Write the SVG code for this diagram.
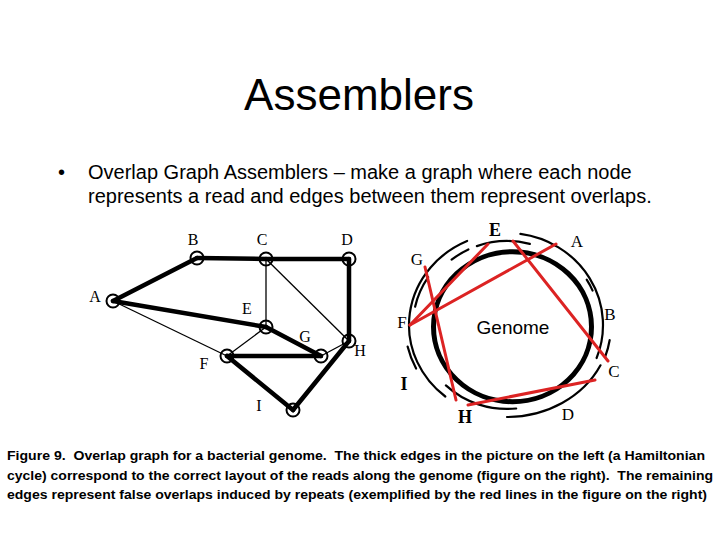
<svg xmlns="http://www.w3.org/2000/svg" width="720" height="540" viewBox="0 0 720 540">
<style>
.title{font-family:"Liberation Sans",Arial,sans-serif;font-size:44px;fill:#000}
.body{font-family:"Liberation Sans",Arial,sans-serif;font-size:20px;fill:#000}
.cap{font-family:"Liberation Sans",Arial,sans-serif;font-size:13.5px;font-weight:bold;fill:#000;white-space:pre}
.lbl{font-family:"Liberation Serif","Times New Roman",serif;font-size:16px;fill:#000;text-anchor:middle}
.rl{font-family:"Liberation Serif","Times New Roman",serif;font-size:17px;fill:#000;text-anchor:middle}
.rb{font-weight:bold;font-size:18px}
.thick{stroke:#000;stroke-width:4.5;stroke-linecap:round;fill:none}
.thin{stroke:#000;stroke-width:1.3;fill:none}
.node{fill:none;stroke:#000;stroke-width:2}
.read{fill:none;stroke:#000;stroke-width:2.2;stroke-linecap:round}
.red{stroke:#dc2323;stroke-width:3;stroke-linecap:round;fill:none}
</style>
<rect width="720" height="540" fill="#fff"/>
<text class="title" x="359" y="110" text-anchor="middle">Assemblers</text>
<text class="body" x="58" y="179">•</text>
<text class="body" x="88" y="179">Overlap Graph Assemblers – make a graph where each node</text>
<text class="body" x="88" y="203">represents a read and edges between them represent overlaps.</text>

<g id="connectors">
<line class="thin" x1="113" y1="301" x2="227" y2="356"/>
<line class="thin" x1="266" y1="259" x2="266" y2="327"/>
<line class="thin" x1="266" y1="259" x2="349" y2="341"/>
<line class="thin" x1="266" y1="327" x2="227" y2="356"/>
<line class="thin" x1="321" y1="356" x2="349" y2="341"/>
<line class="thick" x1="113" y1="301" x2="197" y2="258"/>
<line class="thick" x1="197" y1="258" x2="266" y2="259"/>
<line class="thick" x1="266" y1="259" x2="349" y2="259"/>
<line class="thick" x1="349" y1="259" x2="349" y2="341"/>
<line class="thick" x1="349" y1="341" x2="293" y2="410"/>
<line class="thick" x1="293" y1="410" x2="227" y2="356"/>
<line class="thick" x1="227" y1="356" x2="321" y2="356"/>
<line class="thick" x1="321" y1="356" x2="266" y2="327"/>
<line class="thick" x1="266" y1="327" x2="113" y2="301"/>
</g>

<g id="node-A"><circle class="node" cx="113" cy="301" r="6.5"/><text class="lbl" x="95" y="302">A</text></g>
<g id="node-B"><circle class="node" cx="197" cy="258" r="6.5"/><text class="lbl" x="193" y="245">B</text></g>
<g id="node-C"><circle class="node" cx="266" cy="259" r="6.5"/><text class="lbl" x="262" y="245">C</text></g>
<g id="node-D"><circle class="node" cx="349" cy="259" r="6.5"/><text class="lbl" x="347" y="245">D</text></g>
<g id="node-E"><circle class="node" cx="266" cy="327" r="6.5"/><text class="lbl" x="247" y="314">E</text></g>
<g id="node-F"><circle class="node" cx="227" cy="356" r="6.5"/><text class="lbl" x="204" y="369">F</text></g>
<g id="node-G"><circle class="node" cx="321" cy="356" r="6.5"/><text class="lbl" x="305" y="342">G</text></g>
<g id="node-H"><circle class="node" cx="349" cy="341" r="6.5"/><text class="lbl" x="360" y="356">H</text></g>
<g id="node-I"><circle class="node" cx="293" cy="410" r="6.5"/><text class="lbl" x="259" y="411">I</text></g>

<g id="genome">
<ellipse cx="512.5" cy="326.7" rx="79" ry="75" fill="none" stroke="#000" stroke-width="5"/>
<text x="513" y="334" font-family="'Liberation Sans',Arial,sans-serif" font-size="19" text-anchor="middle">Genome</text>
</g>
<g id="reads">
<path class="read" d="M445.3,396.5 A98,92 0 0 1 467.1,241.0"/>
<path class="read" d="M415.1,306.7 A94,88 0 0 1 428.2,277.1"/>
<path class="read" d="M416.1,368.6 A102,96 0 0 1 407.6,346.6"/>
<path class="read" d="M516.2,408.5 A88,84 0 0 1 445.9,385.4"/>
<path class="read" d="M507,417 A104,92 0 0 0 600.5,365.3"/>
<path class="read" d="M520.4,233.9 A96,92 0 0 1 596.6,358.0"/>
<path class="read" d="M586.7,279.7 A93,88 0 0 1 592.6,290.6"/>
<path class="read" d="M609.7,340 A104,96 0 0 1 605.3,356.3"/>
<path class="read" d="M451.6,259.7 A88,84 0 0 1 468.4,249.5"/>
<path class="read" d="M476.9,246.1 A88,84 0 0 1 529.8,243.9"/>
</g>
<g id="false-overlaps">
<line class="red" x1="488" y1="244" x2="410" y2="325"/>
<line class="red" x1="556" y1="244" x2="410" y2="325"/>
<line class="red" x1="513" y1="241" x2="608" y2="361"/>
<line class="red" x1="425" y1="267" x2="456" y2="400"/>
<line class="red" x1="468" y1="405" x2="595" y2="380"/>
</g>
<g id="read-labels">
<text class="rl rb" x="495" y="236">E</text>
<text class="rl" x="577" y="247">A</text>
<text class="rl" x="417" y="265">G</text>
<text class="rl" x="610" y="320">B</text>
<text class="rl" x="402" y="328">F</text>
<text class="rl" x="614" y="377">C</text>
<text class="rl rb" x="404" y="390">I</text>
<text class="rl rb" x="465" y="423">H</text>
<text class="rl" x="568" y="420">D</text>
</g>

<g id="caption">
<text class="cap" x="7" y="460" textLength="698" lengthAdjust="spacingAndGlyphs">Figure 9.  Overlap graph for a bacterial genome.  The thick edges in the picture on the left (a Hamiltonian</text>
<text class="cap" x="7" y="479.5" textLength="706" lengthAdjust="spacingAndGlyphs">cycle) correspond to the correct layout of the reads along the genome (figure on the right).  The remaining</text>
<text class="cap" x="7" y="498.5" textLength="700" lengthAdjust="spacingAndGlyphs">edges represent false overlaps induced by repeats (exemplified by the red lines in the figure on the right)</text>
</g>
</svg>
